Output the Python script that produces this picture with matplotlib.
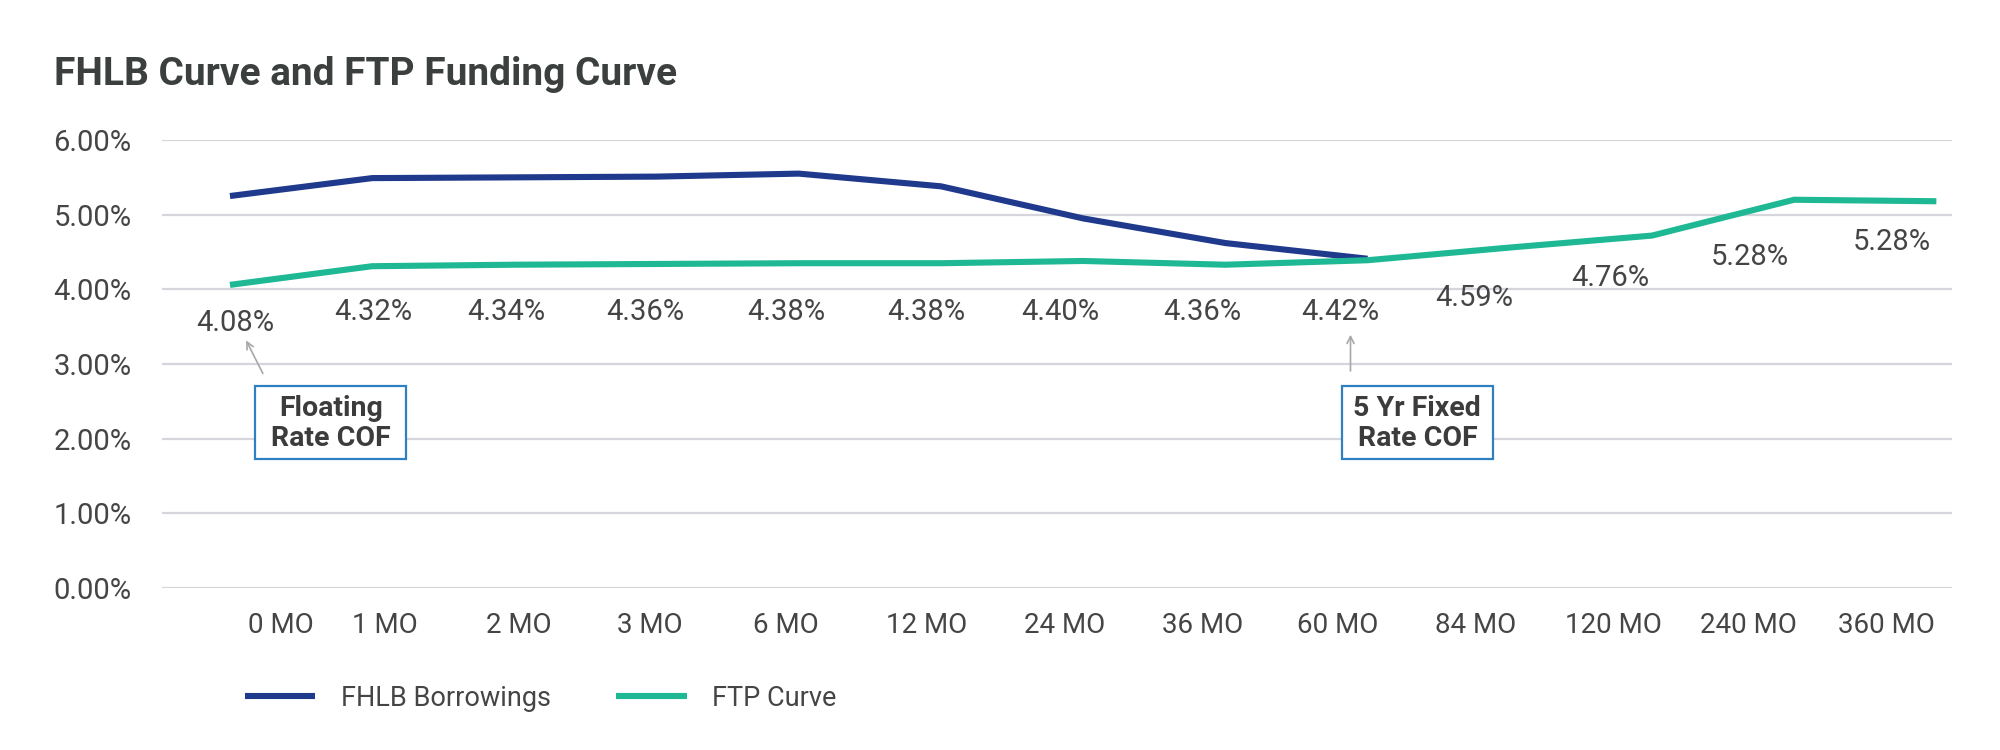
import matplotlib
matplotlib.use("Agg")
import matplotlib.pyplot as plt
from matplotlib.patches import Rectangle

# ---------------- data ----------------
categories = ["0 MO", "1 MO", "2 MO", "3 MO", "6 MO", "12 MO", "24 MO",
              "36 MO", "60 MO", "84 MO", "120 MO", "240 MO", "360 MO"]
fhlb_values = [5.25, 5.49, 5.50, 5.51, 5.55, 5.38, 4.95, 4.62, 4.41]
ftp_values = [4.06, 4.31, 4.33, 4.34, 4.35, 4.35, 4.38, 4.33, 4.39,
              4.56, 4.72, 5.20, 5.18]
ftp_labels = ["4.08%", "4.32%", "4.34%", "4.36%", "4.38%", "4.38%", "4.40%",
              "4.36%", "4.42%", "4.59%", "4.76%", "5.28%", "5.28%"]
y_ticks = [0, 1, 2, 3, 4, 5, 6]
y_tick_labels = ["0.00%", "1.00%", "2.00%", "3.00%", "4.00%", "5.00%", "6.00%"]

# ---------------- layout (positions of labels, not data) ----------------
tick_label_x = [0.36, 1.09, 2.03, 2.95, 3.91, 4.90, 5.87, 6.84, 7.79,
                8.76, 9.73, 10.68, 11.65]
value_label_x = [0.04, 1.01, 1.94, 2.92, 3.91, 4.90, 5.84, 6.84, 7.81,
                 8.75, 9.71, 10.69, 11.69]
value_label_y = [3.55, 3.69, 3.69, 3.69, 3.69, 3.69, 3.69, 3.69, 3.69,
                 3.89, 4.15, 4.43, 4.64]

NAVY = "#1f3a8c"
TEAL = "#1fb894"
GRID = "#d5d5dc"
TXT = "#454545"
TITLE = "#3b403e"
BOXEDGE = "#2f80c0"

body_font = ["Roboto", "DejaVu Sans"]
plt.rcParams["font.family"] = body_font

fig = plt.figure(figsize=(20, 7.5), dpi=100)
ax = fig.add_axes([0.081, 0.216, 0.895, 0.5973])

x_f = list(range(len(fhlb_values)))
x_t = list(range(len(ftp_values)))
l1, = ax.plot(x_f, fhlb_values, color=NAVY, lw=4.4, solid_joinstyle="miter",
              solid_capstyle="butt", label="FHLB Borrowings", zorder=3)
l2, = ax.plot(x_t, ftp_values, color=TEAL, lw=4.4, solid_joinstyle="miter",
              solid_capstyle="butt", label="FTP Curve", zorder=3)

ax.set_xlim(-0.478, 12.11)
ax.set_ylim(0, 6)
for s in ax.spines.values():
    s.set_visible(False)
ax.set_yticks(y_ticks)
ax.set_yticklabels(y_tick_labels, fontsize=21, color=TXT)
ax.yaxis.grid(True, color=GRID, lw=1.6)
ax.set_axisbelow(True)
ax.tick_params(axis="y", length=0, pad=22)
ax.set_xticks(tick_label_x)
ax.set_xticklabels(categories, fontsize=20, color=TXT)
ax.tick_params(axis="x", length=0, pad=17)

for xv, yv, lab in zip(value_label_x, value_label_y, ftp_labels):
    ax.text(xv, yv, lab, ha="center", va="center", fontsize=21, color=TXT)

# annotation boxes
box_w, box_h = 1.062, 0.978
for cx, txt in [(0.71, "Floating\nRate COF"), (8.35, "5 Yr Fixed\nRate COF")]:
    ax.add_patch(Rectangle((cx - box_w / 2, 2.22 - box_h / 2), box_w, box_h,
                           fc="white", ec=BOXEDGE, lw=1.6, zorder=4))
    ax.text(cx, 2.20, txt, ha="center", va="center", fontsize=20.5,
            fontweight="bold", color="#3c3c3c", linespacing=1.12, zorder=5)

arrow_kw = dict(arrowstyle="->,head_length=0.5,head_width=0.25",
                color="#a8a8a8", lw=1.2)
ax.annotate("", xy=(0.105, 3.35), xytext=(0.24, 2.84), arrowprops=arrow_kw)
ax.annotate("", xy=(7.88, 3.43), xytext=(7.88, 2.87), arrowprops=arrow_kw)

fig.text(0.027, 1 - 85 / 750, "FHLB Curve and FTP Funding Curve",
         fontsize=28, fontweight="bold", color=TITLE, va="baseline",
         family=body_font)

fig.legend(handles=[l1, l2], loc="center left",
           bbox_to_anchor=(0.1225, 1 - 698 / 750), ncol=2, frameon=False,
           fontsize=19.5, handlelength=2.6, handletextpad=0.95,
           columnspacing=2.4, borderpad=0, borderaxespad=0,
           labelcolor=TXT)

fig.savefig("out.png", dpi=100, facecolor="white")
